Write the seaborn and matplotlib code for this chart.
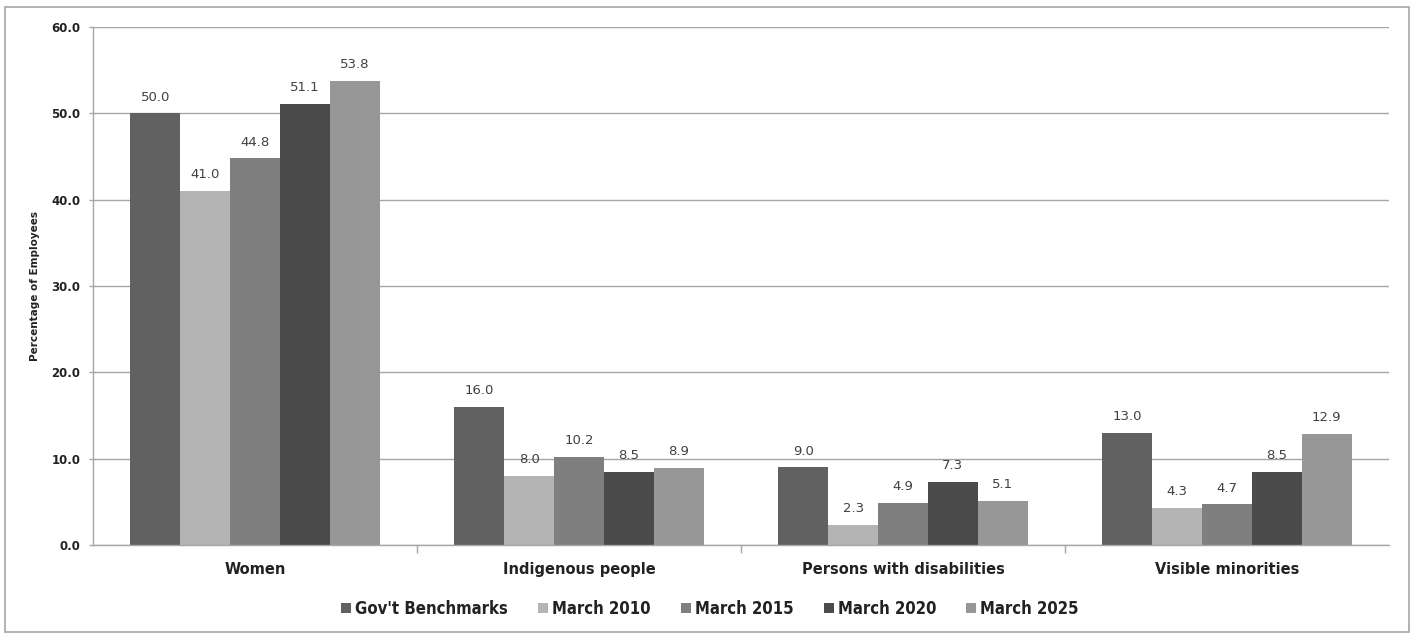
import matplotlib
matplotlib.use("Agg")
import matplotlib.pyplot as plt
from matplotlib.patches import Rectangle
from matplotlib import font_manager
import seaborn as sns
import pandas as pd

categories = ["Women", "Indigenous people", "Persons with disabilities", "Visible minorities"]
series = ["Gov't Benchmarks", "March 2010", "March 2015", "March 2020", "March 2025"]
benchmarks = [50.0, 16.0, 9.0, 13.0]
march_2010 = [41.0, 8.0, 2.3, 4.3]
march_2015 = [44.8, 10.2, 4.9, 4.7]
march_2020 = [51.1, 8.5, 7.3, 8.5]
march_2025 = [53.8, 8.9, 5.1, 12.9]
y_ticks = [0, 10, 20, 30, 40, 50, 60]

values = [benchmarks, march_2010, march_2015, march_2020, march_2025]
colors = ["#616161", "#b4b4b4", "#7f7f7f", "#4b4b4b", "#979797"]

rows = []
for name, vals in zip(series, values):
    for cat, v in zip(categories, vals):
        rows.append({"Group": cat, "Series": name, "Value": v})
df = pd.DataFrame(rows)

sns.set_theme(style="white")
plt.rcParams["font.family"] = ["DejaVu Sans"]

fig = plt.figure(figsize=(14.15, 6.35), dpi=100)
ax = fig.add_axes([93 / 1415, 1 - 545 / 635, (1389 - 93) / 1415, (545 - 27) / 635])

sns.barplot(data=df, x="Group", y="Value", hue="Series", order=categories,
            hue_order=series, palette=colors, width=0.77, gap=0,
            saturation=1, edgecolor="none", linewidth=0, ax=ax, legend=True)

for cont in ax.containers:
    ax.bar_label(cont, fmt="%.1f", padding=7, fontsize=9.5, color="#404040")

ax.set_ylim(0, 60)
ax.set_xlim(-0.5, 3.5)
ax.set_yticks(y_ticks)
ax.set_yticklabels([f"{t:.1f}" for t in y_ticks], fontsize=8.5, fontweight="bold", color="#222222")
ax.yaxis.grid(True, color="#a6a6a6", linewidth=1)
ax.set_axisbelow(True)
ax.tick_params(axis="y", length=3, width=1, color="#a6a6a6", pad=6, left=True)

ax.set_xticks(range(len(categories)))
ax.set_xticklabels(categories, fontsize=10.5, fontweight="bold", color="#222222")
ax.set_xticks([0.5, 1.5, 2.5], minor=True)
ax.tick_params(axis="x", which="major", length=0, pad=12)
ax.tick_params(axis="x", which="minor", length=6, width=1, color="#a6a6a6", bottom=True)

ax.set_xlabel("")
ax.set_ylabel("Percentage of Employees", fontsize=7.5, fontweight="bold", color="#222222", labelpad=8)

for side in ["top", "right"]:
    ax.spines[side].set_visible(False)
for side in ["left", "bottom"]:
    ax.spines[side].set_color("#a6a6a6")
    ax.spines[side].set_linewidth(1)

# narrow bold face for the legend
legend_prop = font_manager.FontProperties(family=["DejaVu Sans"], weight="bold", size=12,
                                          stretch="condensed")

handles, labels = ax.get_legend_handles_labels()
ax.legend_.remove()
fig.legend(handles, labels, loc="center", bbox_to_anchor=(710 / 1415, 1 - 609 / 635),
           ncol=5, frameon=False, handlelength=0.6, handleheight=0.6,
           handletextpad=0.25, columnspacing=1.8, prop=legend_prop, labelcolor="#222222")

fig.patches.append(Rectangle((5 / 1415, 0.005), (1409 - 5) / 1415, 1 - 7 / 635 - 0.005,
                             transform=fig.transFigure, fill=False,
                             edgecolor="#a6a6a6", linewidth=1.2))

fig.savefig("out.png", dpi=100, facecolor="white")
